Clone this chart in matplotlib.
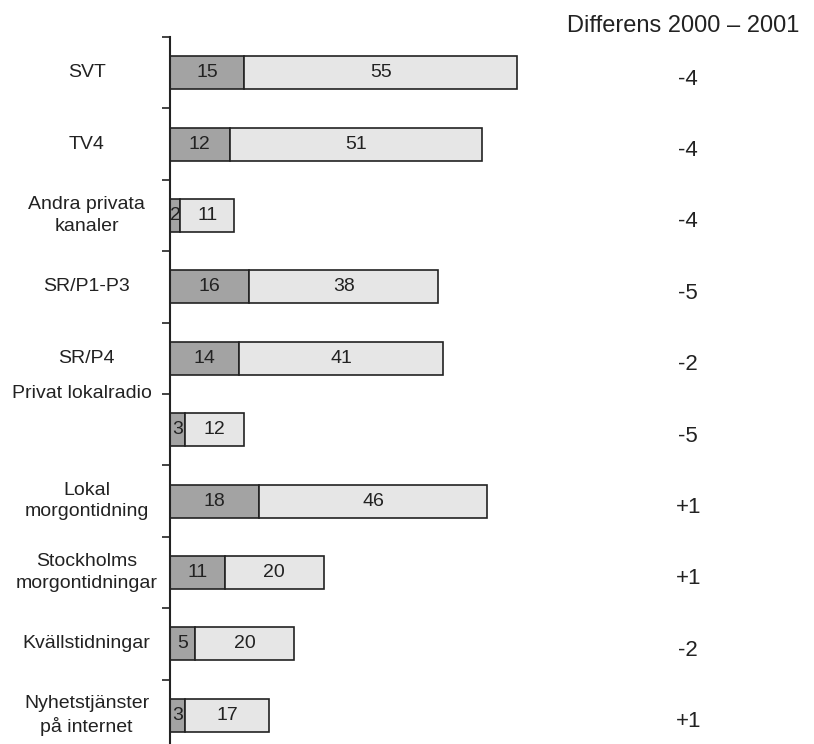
import numpy as np
import matplotlib
matplotlib.use("Agg")
import matplotlib.pyplot as plt

plt.rcParams['font.family'] = ['Liberation Sans', 'DejaVu Sans']

categories = ["SVT", "TV4", "Andra privata\nkanaler", "SR/P1-P3", "SR/P4",
              "Privat lokalradio", "Lokal\nmorgontidning", "Stockholms\nmorgontidningar",
              "Kvällstidningar", "Nyhetstjänster\npå internet"]
dark_vals = [15, 12, 2, 16, 14, 3, 18, 11, 5, 3]
light_vals = [55, 51, 11, 38, 41, 12, 46, 20, 20, 17]
diffs = ["-4", "-4", "-4", "-5", "-2", "-5", "+1", "+1", "-2", "+1"]
header = "Differens 2000 – 2001"

fig = plt.figure(figsize=(8.14, 7.44), dpi=100)
# axes runs a little past the bottom edge, like the original
ax = fig.add_axes([170 / 814, -7 / 744, 496 / 814, 714 / 744])

y = np.arange(len(categories))
dark_c = "#a3a3a3"
light_c = "#e6e6e6"
ax.barh(y, dark_vals, height=0.46, color=dark_c, edgecolor="#222222", linewidth=1.2)
ax.barh(y, light_vals, left=dark_vals, height=0.46, color=light_c,
        edgecolor="#222222", linewidth=1.2)

for i in range(len(categories)):
    ax.text(dark_vals[i] / 2, i, str(dark_vals[i]), ha="center", va="center",
            fontsize=14, color="#222222")
    ax.text(dark_vals[i] + light_vals[i] / 2, i, str(light_vals[i]), ha="center",
            va="center", fontsize=14, color="#222222")
    # category label, Privat lokalradio sits on the tick above its bar
    ly = i - 0.5 if categories[i] == "Privat lokalradio" else i
    lx = -16.8 if categories[i] != "Privat lokalradio" else -17.8
    ax.text(lx, ly, categories[i], ha="center", va="center", fontsize=14,
            color="#222222", linespacing=1.35, clip_on=False)
    ax.text(104.5, i + 0.09, diffs[i], ha="center", va="center", fontsize=16,
            color="#222222", clip_on=False)

ax.text(103.5, -0.57, header, ha="center", va="baseline", fontsize=17,
        color="#222222", clip_on=False)

ax.set_xlim(0, 100)
ax.set_ylim(len(categories) - 0.5, -0.5)
ax.set_yticks(np.arange(-0.5, len(categories) - 1, 1.0))
ax.set_yticklabels([])
ax.set_xticks([])
for s in ["top", "right", "bottom"]:
    ax.spines[s].set_visible(False)
ax.spines["left"].set_linewidth(1.5)
ax.spines["left"].set_color("#222222")
ax.tick_params(axis="y", direction="out", length=6, width=1.2, color="#222222")
ax.patch.set_alpha(0)

fig.savefig("out.png", dpi=100)
